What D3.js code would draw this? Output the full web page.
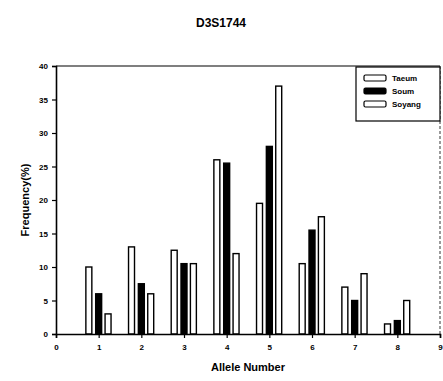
<!DOCTYPE html>
<html><head><meta charset="utf-8">
<script src="https://cdn.jsdelivr.net/npm/d3@7"></script>
<style>body{margin:0;background:#fff}</style>
</head><body>
<svg id="c" width="443" height="381"></svg>
<script>
const alleles = [1,2,3,4,5,6,7,8];
const seriesNames = ["Taeum","Soum","Soyang"];
const taeum  = [10, 13, 12.5, 26, 19.5, 10.5, 7, 1.5];
const soum   = [6, 7.5, 10.5, 25.5, 28, 15.5, 5, 2];
const soyang = [3, 6, 10.5, 12, 37, 17.5, 9, 5];
const xTicks = [0,1,2,3,4,5,6,7,8,9];
const yTicks = [0,5,10,15,20,25,30,35,40];
const fills = ["#fff","#000","#fff"];
const offsets = [-0.23, 0, 0.22];

const svg = d3.select("#c");
const font = "'Liberation Sans', Arial, sans-serif";
const x = d3.scaleLinear().domain([0,9]).range([56,440]);
const y = d3.scaleLinear().domain([0,40]).range([334,66]);

svg.append("text").attr("x",221).attr("y",27).attr("text-anchor","middle")
  .attr("font-family",font).attr("font-weight","bold").attr("font-size",12).text("D3S1744");

// frame top/right
svg.append("line").attr("x1",x(0)).attr("x2",x(9)).attr("y1",y(40)).attr("y2",y(40)).attr("stroke","#000").attr("stroke-width",1.2);
svg.append("line").attr("x1",x(9)).attr("x2",x(9)).attr("y1",y(40)).attr("y2",y(0)).attr("stroke","#000").attr("stroke-width",0.8).attr("stroke-dasharray","3,2");

const data = [taeum, soum, soyang];
const bw = x(0.14)-x(0);
data.forEach((vals,si)=>{
  svg.append("g").selectAll("rect").data(alleles).join("rect")
    .attr("x",(d,i)=>x(d+offsets[si])-bw/2)
    .attr("y",(d,i)=>y(vals[i]))
    .attr("width",bw)
    .attr("height",(d,i)=>y(0)-y(vals[i]))
    .attr("fill",fills[si]).attr("stroke","#000").attr("stroke-width",1.4);
});

const yAxis = svg.append("g").attr("transform",`translate(${x(0)},0)`)
  .call(d3.axisLeft(y).tickValues(yTicks).tickSize(4).tickPadding(4));
const xAxis = svg.append("g").attr("transform",`translate(0,${y(0)})`)
  .call(d3.axisBottom(x).tickValues(xTicks).tickSize(4).tickPadding(6));
[yAxis,xAxis].forEach(a=>{
  a.selectAll("path").attr("stroke","#000").attr("stroke-width",1.6);
  a.selectAll("line").attr("stroke","#000").attr("stroke-width",1.2);
  a.selectAll("text").attr("font-family",font).attr("font-weight","bold").attr("font-size",8).attr("fill","#000");
});

svg.append("text").attr("transform","translate(29,200) rotate(-90)").attr("text-anchor","middle")
  .attr("font-family",font).attr("font-weight","bold").attr("font-size",11).text("Frequency(%)");
svg.append("text").attr("x",248).attr("y",371).attr("text-anchor","middle")
  .attr("font-family",font).attr("font-weight","bold").attr("font-size",11).text("Allele Number");

// legend
const lg = svg.append("g");
lg.append("rect").attr("x",356).attr("y",67).attr("width",84).attr("height",54)
  .attr("fill","#fff").attr("stroke","#000").attr("stroke-width",1.2);
seriesNames.forEach((n,i)=>{
  const yy = 78 + i*13;
  lg.append("rect").attr("x",364).attr("y",yy-3).attr("width",22).attr("height",6).attr("rx",1.5)
    .attr("fill",fills[i]).attr("stroke","#000").attr("stroke-width",1.2);
  lg.append("text").attr("x",392).attr("y",yy+3).attr("font-family",font).attr("font-weight","bold")
    .attr("font-size",8).text(n);
});
</script>
</body></html>
